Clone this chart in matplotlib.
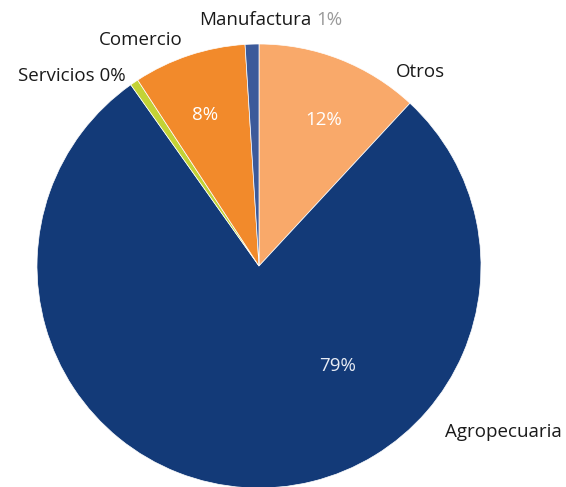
import matplotlib
matplotlib.use("Agg")
import matplotlib.pyplot as plt

categories = ["Otros", "Agropecuaria", "Servicios", "Comercio", "Manufactura"]
values = [11.9, 78.3, 0.6, 8.2, 1.0]
pct_labels = ["12%", "79%", "0%", "8%", "1%"]
colors = ["#F9A96A", "#133A78", "#C3D235", "#F28A2B", "#3C5A9A"]

plt.rcParams['font.family'] = ['Open Sans', 'DejaVu Sans']

W, H = 566, 487
fig = plt.figure(figsize=(W / 100, H / 100), dpi=100)
cx, cy, r = 259, 266, 222
ax = fig.add_axes([(cx - r) / W, (H - cy - r) / H, 2 * r / W, 2 * r / H])
ax.pie(values, colors=colors, startangle=90, counterclock=False, radius=1,
       wedgeprops=dict(linewidth=0.5, edgecolor="white"))
ax.set_xlim(-1, 1)
ax.set_ylim(-1, 1)
ax.set_aspect("equal")
ax.axis("off")

fs = 13.5
# inside labels
ax.text(0.293, 0.658, pct_labels[0], color="white", fontsize=fs, ha="center", va="center")
ax.text(-0.243, 0.68, pct_labels[3], color="white", fontsize=fs, ha="center", va="center")
ax.text(0.356, -0.45, pct_labels[1], color="#E8ECF4", fontsize=fs, ha="center", va="center")
# outside labels
ax.text(0.725, 0.874, categories[0], color="#1a1a1a", fontsize=fs, ha="center", va="center", clip_on=False)
ax.text(1.10, -0.748, categories[1], color="#1a1a1a", fontsize=fs, ha="center", va="center", clip_on=False)
ax.text(-0.842, 0.856, categories[2] + " " + pct_labels[2], color="#1a1a1a", fontsize=fs,
        ha="center", va="center", clip_on=False)
ax.text(-0.532, 1.018, categories[3], color="#1a1a1a", fontsize=fs, ha="center", va="center", clip_on=False)
ax.text(0.234, 1.108, categories[4], color="#1a1a1a", fontsize=fs, ha="right", va="center", clip_on=False)
ax.text(0.257, 1.108, pct_labels[4], color="#9a9a9a", fontsize=fs, ha="left", va="center", clip_on=False)

fig.savefig("out.png", dpi=100, facecolor="white")
